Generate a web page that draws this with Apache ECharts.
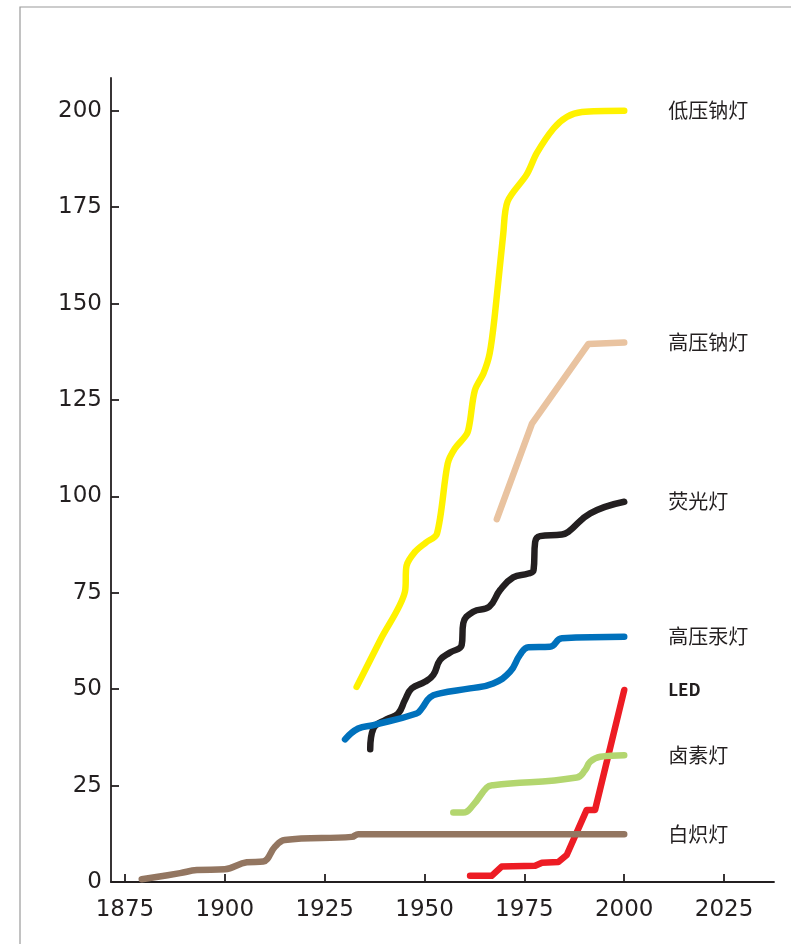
<!DOCTYPE html>
<html>
<head>
<meta charset="utf-8">
<script src="https://cdn.jsdelivr.net/npm/echarts@6/dist/echarts.min.js"></script>
<style>
html,body{margin:0;padding:0;background:#fff;}
#chart{width:791px;height:944px;}
</style>
</head>
<body>
<div id="chart"></div>
<script>
// tick labels
var xTicks = [1875, 1900, 1925, 1950, 1975, 2000, 2025];
var yTicks = [0, 25, 50, 75, 100, 125, 150, 175, 200];

// series names
var names = ['低压钠灯', '高压钠灯', '荧光灯', '高压汞灯', 'LED', '卤素灯', '白炽灯'];

// [year, value]
var lowPressureSodium = [[1933,50.6],[1939,62.9],[1945.1,75.3],[1945.5,82.0],[1947.6,85.6],[1950.3,88],[1953.1,90.3],[1955.8,108.5],[1957.6,112.4],[1960.6,116.2],[1961.3,119],[1962.6,127.5],[1964.8,132.0],[1966.3,137],[1967.6,147],[1969.7,168],[1970.8,176.5],[1975.6,183.5],[1978.1,189],[1982.3,195.4],[1985.6,198.4],[1989.4,199.7],[2000,200.0]];
var highPressureSodium = [[1968.1,94.1],[1976.9,118.9],[1991,139.5],[2000,139.9]];
var fluorescent = [[1936.4,34.4],[1937.2,39.8],[1940.5,42.2],[1943.4,43.7],[1945.1,47.2],[1946.8,50.2],[1950.1,51.9],[1952.2,53.7],[1953.9,57.6],[1956.4,59.5],[1959.3,61.4],[1959.7,67.1],[1962.2,70.1],[1966.2,71.4],[1968.9,75.7],[1972.2,79.0],[1976,80.0],[1977.3,80.9],[1977.7,88.2],[1978.9,89.7],[1984.4,90.1],[1986,90.8],[1991.5,95.6],[2000,98.6]];
var mercury = [[1930.1,37.0],[1933.4,39.8],[1937.2,40.7],[1948,43.7],[1949.3,45.0],[1951.4,47.9],[1953.9,48.9],[1961.4,50.2],[1967.2,51.5],[1971.4,54.5],[1973.9,58.9],[1976,60.9],[1981.4,61.0],[1984.4,63.2],[2000,63.6]];
var led = [[1961.4,1.6],[1966.8,1.6],[1969.3,4.0],[1977.7,4.2],[1979.4,5.0],[1983.5,5.2],[1985.6,7.0],[1990.6,18.7],[1992.7,18.7],[2000,49.8]];
var halogen = [[1957.2,18.0],[1959.7,18.0],[1962.2,20.0],[1965.6,24.5],[1967.2,25.1],[1988.1,27.1],[1990.2,29.0],[1991.5,31.2],[1994,32.5],[2000,32.9]];
var incandescent = [[1879.2,0.7],[1888.8,2.3],[1893,3.1],[1900,3.3],[1905.5,5.1],[1909.6,5.3],[1912.6,9.2],[1915,10.9],[1931.8,11.7],[1933.4,12.4],[2000,12.4]];

var seriesData = [lowPressureSodium, highPressureSodium, fluorescent, mercury, led, halogen, incandescent];
var colors = ['#fff200', '#e9c3a0', '#231f20', '#0071bc', '#ed1c24', '#b3d66f', '#937661'];
var smooths = [0.3, false, 0.45, 0.45, false, 0.45, 0.4];
var order = [6, 5, 4, 1, 3, 2, 0];

var ink = '#231f20';
var series = order.map(function (i) {
  return {
    name: names[i],
    type: 'line',
    data: seriesData[i],
    showSymbol: false,
    symbol: 'none',
    smooth: smooths[i],
    lineStyle: { color: colors[i], width: 6.5, cap: 'round', join: 'round' },
    itemStyle: { color: colors[i] },
    silent: true,
    endLabel: {
      show: true,
      formatter: '{a}',
      distance: 44,
      color: ink,
      fontSize: i === 4 ? 17 : 20,
      fontWeight: i === 4 ? 600 : 'normal',
      fontFamily: '"Noto Sans CJK SC", "Noto Sans", sans-serif'
    },
    z: 2 + i
  };
});

var chart = echarts.init(document.getElementById('chart'), null, { renderer: 'canvas' });
chart.setOption({
  animation: false,
  backgroundColor: '#fff',
  grid: { left: 111, top: 78, right: 17, bottom: 62, containLabel: false, outerBoundsMode: 'none' },
  xAxis: {
    type: 'value',
    min: 1871.5,
    max: 2037.5,
    splitLine: { show: false },
    axisLine: { show: true, onZero: false, lineStyle: { color: ink, width: 1.8 } },
    axisTick: { show: true, inside: true, length: 8, customValues: xTicks, lineStyle: { color: ink, width: 1.8 } },
    axisLabel: { customValues: xTicks, formatter: function (v) { return String(v); }, margin: 17, color: ink, fontSize: 23, fontFamily: '"DejaVu Sans", sans-serif' }
  },
  yAxis: {
    type: 'value',
    min: 0,
    max: 208.5,
    splitLine: { show: false },
    axisLine: { show: true, lineStyle: { color: ink, width: 1.8 } },
    axisTick: { show: true, inside: true, length: 8, customValues: yTicks, lineStyle: { color: ink, width: 1.8 } },
    axisLabel: { customValues: yTicks, formatter: function (v) { return String(v); }, margin: 9, color: ink, fontSize: 23, fontFamily: '"DejaVu Sans", sans-serif' }
  },
  graphic: [{
    type: 'polyline',
    shape: { points: [[20, 944], [20, 7], [791, 7]] },
    style: { stroke: '#9a9a9a', lineWidth: 1.2, fill: null },
    silent: true
  }],
  series: series
});
</script>
</body>
</html>
